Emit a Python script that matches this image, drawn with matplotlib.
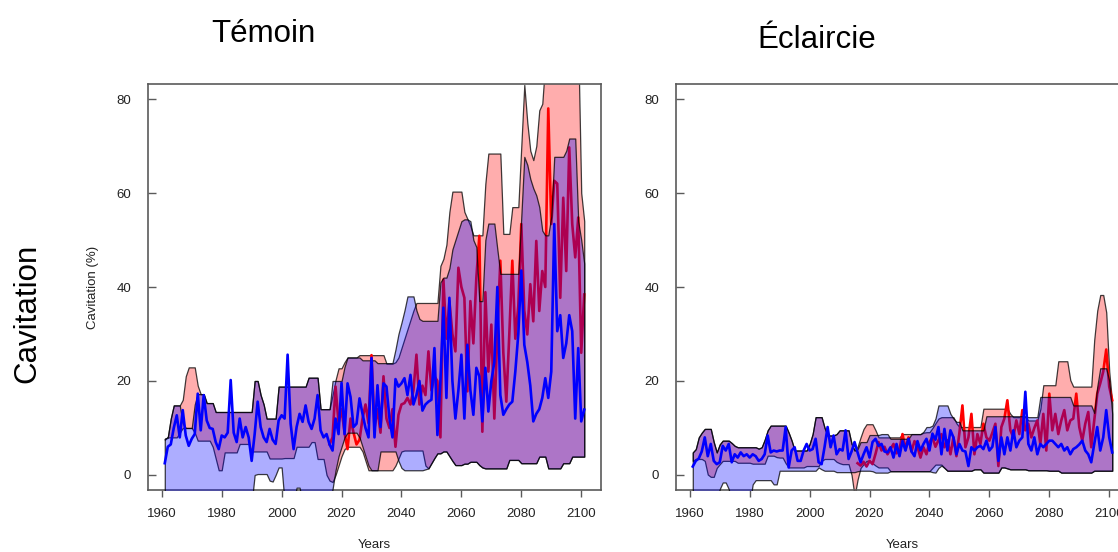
import numpy as np
import matplotlib
matplotlib.use("Agg")
import matplotlib.pyplot as plt

# ---------------- data ----------------
years = np.arange(1961, 2102)
red_years = np.arange(2016, 2102)

# ---- Témoin (left) ----
blue_L = [2.5, 6.0, 6.5, 10.0, 12.7, 8.0, 13.8, 8.4, 6.2, 7.7,
          8.7, 17.3, 9.5, 17.0, 11.6, 10.0, 9.8, 7.0, 5.5, 8.4,
          8.0, 9.0, 20.2, 9.0, 7.0, 12.0, 8.0, 10.2, 8.0, 3.0,
          8.7, 15.6, 10.2, 8.0, 7.0, 9.8, 7.5, 6.6, 11.6, 12.7,
          12.0, 25.6, 10.9, 5.5, 10.2, 13.0, 11.3, 14.8, 11.3, 9.8,
          12.0, 17.0, 9.5, 8.0, 8.7, 6.5, 5.2, 12.0, 8.7, 19.6,
          8.7, 19.5, 16.6, 10.2, 10.9, 16.3, 13.0, 10.0, 8.0, 24.9,
          8.0, 19.1, 10.2, 19.5, 18.8, 12.0, 8.0, 20.4, 18.8, 19.5,
          20.6, 17.0, 21.3, 15.0, 17.0, 20.0, 13.7, 15.0, 15.6, 16.0,
          27.0, 8.5, 20.0, 35.6, 16.4, 37.7, 20.0, 12.0, 18.0, 25.6,
          12.0, 27.7, 18.0, 12.8, 22.8, 21.0, 11.4, 22.8, 13.5, 20.0,
          24.0, 40.0, 17.0, 12.8, 14.0, 15.0, 15.6, 22.0, 30.0, 43.5,
          27.7, 24.0, 19.0, 11.4, 13.0, 14.0, 16.4, 20.6, 16.4, 22.0,
          53.4, 30.6, 34.0, 24.9, 28.0, 34.0, 30.6, 12.0, 27.0, 11.4,
          13.9]

red_L = [6.5, 8.0, 18.8, 11.0, 14.0, 9.0, 5.5, 12.0, 9.0, 6.5,
         7.5, 12.0, 15.0, 11.0, 25.5, 10.0, 14.0, 9.0, 21.0, 12.0,
         10.0, 14.0, 6.0, 12.8, 15.0, 15.3, 16.4, 15.0, 18.0, 25.6,
         15.0, 19.0, 17.0, 26.3, 18.0, 21.0, 20.0, 8.0, 41.6, 29.0,
         37.0, 30.0, 26.3, 44.1, 40.0, 37.7, 17.8, 37.0, 28.0, 42.0,
         50.9, 9.2, 38.9, 22.0, 32.0, 12.0, 30.0, 45.6, 26.0, 15.6,
         30.0, 45.6, 29.0, 36.0, 53.4, 35.0, 29.9, 40.6, 32.7, 49.8,
         34.9, 43.4, 40.0, 78.0, 53.4, 62.6, 62.0, 37.7, 59.0, 43.4,
         69.7, 53.4, 46.3, 54.8, 26.0, 38.4]

blue_hi_L = [7.7, 8.0, 12.0, 14.8, 14.8, 14.8, 11.0, 10.0, 10.0, 10.0,
             15.0, 17.2, 17.2, 17.2, 15.3, 15.3, 15.3, 13.4, 13.4, 13.4,
             13.4, 13.4, 13.4, 13.4, 13.4, 13.4, 13.4, 13.4, 13.4, 13.4,
             20.0, 20.0, 17.0, 15.0, 12.0, 12.0, 12.0, 12.0, 18.8, 18.8,
             18.8, 18.8, 18.8, 18.8, 18.8, 18.8, 18.8, 18.8, 20.7, 20.7,
             20.7, 20.7, 14.0, 14.0, 14.0, 14.0, 20.0, 20.0, 20.0, 20.0,
             23.0, 25.0, 25.0, 25.0, 25.0, 25.0, 24.4, 24.4, 24.4, 24.4,
             24.4, 23.8, 23.8, 23.8, 23.8, 23.8, 23.8, 26.7, 30.0, 32.4,
             35.0, 38.0, 38.0, 38.0, 35.0, 33.2, 32.8, 32.8, 32.8, 32.8,
             32.8, 32.8, 41.0, 42.0, 42.0, 44.0, 48.0, 50.0, 52.0, 54.0,
             54.4, 54.4, 54.0, 50.0, 48.5, 37.0, 37.0, 50.0, 53.5, 53.5,
             53.5, 48.0, 42.8, 42.8, 42.8, 42.8, 42.8, 42.8, 42.8, 55.0,
             67.7, 66.0, 63.0, 61.0, 59.5, 57.0, 52.0, 51.0, 51.0, 55.0,
             67.7, 67.7, 67.7, 67.7, 69.0, 71.6, 71.6, 71.6, 54.0, 50.0,
             45.0]

red_hi_L = [7.7, 8.0, 12.0, 14.8, 14.8, 14.8, 16.0, 21.0, 22.9, 22.9,
            22.9, 19.0, 17.2, 17.2, 15.3, 15.3, 15.3, 13.4, 13.4, 13.4,
            13.4, 13.4, 13.4, 13.4, 13.4, 13.4, 13.4, 13.4, 13.4, 13.4,
            20.0, 20.0, 17.0, 15.0, 12.0, 12.0, 12.0, 12.0, 18.8, 18.8,
            18.8, 18.8, 18.8, 18.8, 18.8, 18.8, 18.8, 18.8, 20.7, 20.7,
            20.7, 20.7, 14.0, 14.0, 14.0, 14.0, 17.0, 20.2, 22.7, 22.7,
            24.0, 25.0, 25.0, 25.0, 25.0, 25.5, 25.5, 25.5, 25.5, 25.5,
            25.5, 25.5, 25.5, 25.5, 23.7, 23.7, 23.7, 24.0, 25.0, 27.0,
            29.0, 31.0, 33.0, 35.0, 36.6, 36.6, 36.6, 36.6, 36.6, 36.6,
            36.6, 36.6, 44.5, 46.0, 49.0, 56.0, 60.3, 60.3, 60.3, 60.3,
            56.0, 54.5, 53.0, 51.0, 51.0, 51.0, 51.0, 62.0, 68.4, 68.4,
            68.4, 68.4, 68.4, 51.3, 51.3, 51.3, 57.0, 57.0, 57.0, 70.0,
            83.0, 75.0, 69.0, 67.0, 70.0, 77.6, 79.0, 88.0, 92.0, 92.0,
            92.0, 92.0, 92.0, 92.0, 92.0, 92.0, 92.0, 92.0, 92.0, 60.0,
            54.0]

blue_lo_L = [-6, -6, -6, -6, -6, -6, -6, -6, -6, -6,
             -6, -6, -6, -6, -6, -6, -6, -6, -6, -6,
             -6, -6, -6, -6, -6, -6, -6, -6, -6, -6,
             0.0, 0.2, 0.2, 0.2, 0.2, -1.2, -1.4, 0.0, 1.6, 1.6,
             -6, -6, -6, -6, -2.7, -2.7, -6, -6, -6, -6,
             -6, -6, -6, -6, -6, -6, -3.0, 1.0, 4.0, 6.0,
             8.0, 9.0, 9.0, 9.0, 9.0, 8.0, 6.0, 4.0, 2.0, 1.0,
             1.0, 1.0, 5.0, 5.0, 5.0, 5.0, 5.0, 5.0, 3.0, 1.5,
             1.0, 1.0, 1.0, 1.0, 1.0, 1.0, 1.0, 1.2, 1.4, 2.5,
             3.6, 4.6, 4.6, 5.0, 5.0, 4.0, 3.0, 2.1, 2.1, 2.1,
             2.4, 2.4, 2.8, 2.8, 2.8, 2.1, 1.6, 1.4, 1.4, 1.4,
             1.4, 1.4, 1.4, 1.4, 1.4, 3.2, 3.2, 3.2, 3.2, 2.5,
             2.5, 2.5, 2.5, 2.5, 2.5, 3.9, 3.9, 3.9, 1.4, 1.4,
             1.4, 1.4, 1.4, 2.5, 2.5, 2.5, 3.9, 3.9, 3.9, 3.9,
             3.9]

red_lo_L = [7.5, 8.0, 8.0, 8.0, 8.0, 9.0, 10.0, 10.0, 10.0, 10.0,
            9.0, 7.3, 7.3, 7.3, 7.3, 7.3, 6.0, 3.5, 1.0, 1.0,
            4.8, 4.8, 4.8, 4.8, 4.8, 6.6, 6.6, 6.6, 6.6, 5.0,
            5.0, 5.0, 5.0, 5.0, 5.0, 3.5, 3.5, 3.5, 3.5, 3.5,
            3.6, 3.6, 3.6, 3.6, 6.0, 6.0, 6.0, 6.0, 6.0, 7.0,
            7.0, 3.4, 3.4, 3.4, 0.0, -1.2, -1.5, 0.0, 2.0, 4.0,
            5.5, 6.0, 6.0, 6.0, 6.0, 6.0, 5.0, 3.0, 1.0, 1.0,
            1.0, 1.0, 1.0, 1.0, 1.0, 1.0, 1.0, 2.0, 3.5, 5.0,
            5.2, 5.2, 5.2, 5.2, 5.2, 5.2, 5.2, 2.0, 1.4, 2.5,
            3.6, 4.6, 4.6, 5.0, 5.0, 4.0, 3.0, 2.1, 2.1, 2.1,
            2.4, 2.4, 2.8, 2.8, 2.8, 2.1, 1.6, 1.4, 1.4, 1.4,
            1.4, 1.4, 1.4, 1.4, 1.4, 3.2, 3.2, 3.2, 3.2, 2.5,
            2.5, 2.5, 2.5, 2.5, 2.5, 3.9, 3.9, 3.9, 1.4, 1.4,
            1.4, 1.4, 1.4, 2.5, 2.5, 2.5, 3.9, 3.9, 3.9, 3.9,
            3.9]

# ---- Éclaircie (right) ----
blue_R = [1.8, 3.0, 3.5, 5.0, 8.0, 4.0, 6.6, 3.0, 2.3, 2.7,
          6.2, 5.2, 6.6, 2.7, 4.4, 3.7, 4.8, 4.0, 4.4, 3.7,
          4.4, 4.0, 3.0, 3.4, 4.4, 8.4, 4.8, 5.2, 5.0, 5.2,
          5.2, 10.2, 1.6, 5.2, 5.9, 3.0, 3.0, 5.2, 6.6, 5.2,
          5.5, 7.7, 2.7, 2.3, 6.0, 10.2, 5.9, 8.4, 4.4, 5.5,
          5.2, 9.5, 3.4, 5.0, 7.0, 4.8, 2.7, 4.4, 5.9, 3.7,
          7.0, 7.7, 6.2, 6.6, 5.0, 4.8, 5.9, 3.7, 6.6, 4.0,
          7.2, 5.2, 7.7, 5.0, 4.0, 7.2, 5.2, 6.6, 7.7, 5.2,
          8.8, 7.5, 10.2, 4.4, 9.8, 5.2, 9.5, 8.0, 4.4, 6.6,
          5.2, 5.0, 1.9, 5.9, 5.2, 5.9, 6.2, 5.5, 7.3, 5.2,
          6.0, 10.2, 3.0, 8.0, 4.4, 8.0, 5.2, 9.5, 5.9, 7.3,
          8.0, 17.7, 6.6, 5.2, 8.0, 4.4, 6.6, 5.9, 6.6, 7.3,
          7.3, 6.6, 5.9, 6.6, 5.2, 5.9, 4.4, 5.5, 5.9, 6.5,
          7.3, 5.2, 4.4, 2.7, 6.6, 10.2, 5.2, 8.0, 13.8, 8.0,
          4.8]

red_R = [2.5, 2.0, 2.8, 1.8, 3.0, 2.3, 4.5, 7.0, 5.2, 6.0,
         4.4, 5.5, 6.6, 4.6, 5.5, 8.7, 5.5, 8.0, 5.0, 7.2,
         6.0, 3.7, 5.9, 4.4, 7.0, 8.0, 6.0, 7.4, 8.7, 5.9,
         7.4, 4.4, 8.0, 4.0, 9.0, 14.8, 5.9, 8.0, 13.0, 4.4,
         8.7, 6.6, 10.9, 8.0, 7.3, 9.0, 10.9, 1.9, 10.2, 12.0,
         15.9, 9.5, 8.0, 11.6, 8.7, 13.8, 9.5, 10.9, 8.0, 10.0,
         11.6, 6.6, 13.0, 5.2, 17.3, 9.5, 13.0, 8.7, 11.6, 13.8,
         9.5, 11.6, 12.0, 17.3, 10.2, 7.3, 10.9, 13.4, 5.9, 11.6,
         17.3, 19.5, 22.0, 26.7, 18.8, 15.9]

blue_hi_R = [4.8, 5.5, 8.0, 9.0, 9.8, 9.8, 9.8, 7.0, 4.8, 6.5,
             7.3, 7.3, 7.3, 6.8, 6.2, 5.9, 5.9, 5.9, 5.9, 5.9,
             5.9, 5.9, 5.6, 5.9, 7.5, 9.5, 10.5, 10.5, 10.5, 10.5,
             10.5, 10.5, 9.0, 7.3, 5.2, 5.2, 5.2, 5.2, 5.2, 6.6,
             8.7, 12.3, 12.3, 12.3, 10.0, 8.4, 8.4, 8.4, 8.7, 9.5,
             9.5, 9.5, 9.5, 6.6, 5.2, 5.5, 7.0, 7.0, 7.0, 8.5,
             8.5, 8.5, 8.5, 8.7, 8.7, 8.7, 7.7, 7.7, 7.7, 7.7,
             7.7, 7.7, 7.7, 8.7, 8.7, 8.7, 8.7, 9.2, 10.2, 10.2,
             10.5, 12.0, 14.8, 14.8, 14.8, 14.8, 13.0, 12.0, 11.3, 11.3,
             9.5, 9.5, 9.5, 9.5, 9.5, 9.5, 9.5, 9.5, 12.5, 12.5,
             12.5, 12.5, 12.5, 12.5, 12.5, 12.5, 12.5, 12.5, 12.5, 12.5,
             12.5, 12.5, 12.3, 12.3, 12.3, 12.3, 16.6, 16.6, 16.6, 16.6,
             16.6, 16.6, 16.6, 16.6, 16.6, 16.6, 16.6, 14.8, 14.8, 14.8,
             14.8, 14.8, 14.8, 14.8, 13.2, 18.8, 22.7, 22.7, 22.7, 20.0,
             13.0]

red_hi_R = [4.8, 5.5, 8.0, 9.0, 9.8, 9.8, 9.8, 7.0, 4.8, 6.5,
            7.3, 7.3, 7.3, 6.8, 6.2, 5.9, 5.9, 5.9, 5.9, 5.9,
            5.9, 5.9, 5.6, 5.9, 7.5, 9.5, 10.5, 10.5, 10.5, 10.5,
            10.5, 10.5, 9.0, 7.3, 5.2, 5.2, 5.2, 5.2, 5.2, 6.6,
            8.7, 12.3, 12.3, 12.3, 10.0, 8.4, 8.4, 8.4, 8.7, 9.5,
            9.5, 9.5, 9.5, 6.6, 5.2, 6.0, 8.0, 9.8, 10.8, 10.8,
            10.8, 9.5, 8.0, 8.0, 8.0, 8.0, 8.0, 8.0, 8.0, 8.0,
            8.7, 8.7, 8.7, 8.7, 8.7, 8.7, 8.7, 9.0, 9.1, 9.1,
            10.0, 11.0, 12.0, 12.3, 12.3, 12.3, 12.3, 12.3, 11.0, 10.2,
            10.2, 10.2, 10.2, 10.2, 10.2, 10.2, 10.2, 14.1, 14.1, 14.1,
            14.1, 14.1, 14.1, 14.1, 14.1, 14.1, 13.0, 12.3, 12.3, 12.3,
            12.3, 12.3, 11.6, 11.6, 11.6, 11.6, 14.0, 19.1, 19.1, 19.1,
            19.1, 19.1, 24.2, 24.2, 24.2, 24.2, 20.2, 18.8, 18.8, 18.8,
            18.8, 18.8, 18.8, 18.8, 28.8, 35.0, 38.3, 38.3, 34.6, 22.0,
            15.2]

blue_lo_R = [-6, -6, -6, -6, -6, -6, -6, -6, -6, -3.0,
             -1.6, -1.6, -3.0, -6, -6, -6, -6, -6, -6, -6,
             -2.0, -1.1, -1.1, -1.1, -1.1, -1.1, -1.1, -2.0, -2.0, 0.9,
             0.9, 0.9, 0.9, 0.9, 0.9, 0.9, 0.9, 0.9, 0.9, 0.9,
             0.9, 0.9, 1.6, 1.2, 0.9, 0.9, 0.9, 0.9, 0.6, 0.6,
             0.6, 0.6, 0.6, 0.6, 0.6, 0.8, 0.9, 0.9, 0.9, 0.9,
             0.8, 0.5, 0.5, 0.5, 0.5, 0.5, 0.8, 0.8, 0.8, 0.8,
             0.8, 0.8, 0.8, 0.8, 0.8, 0.8, 0.8, 0.8, 0.8, 0.8,
             0.6, 0.5, 1.5, 2.0, 1.5, 0.9, 0.9, 0.9, 0.9, 0.9,
             0.9, 0.9, 0.9, 0.9, 1.2, 1.2, 1.2, 0.5, 0.5, 0.5,
             0.5, 0.5, 0.5, 1.6, 1.6, 1.4, 1.2, 1.2, 1.2, 1.2,
             1.2, 1.2, 1.0, 1.0, 1.0, 1.0, 1.0, 1.0, 1.0, 0.9,
             0.9, 0.9, 0.9, 0.5, 0.5, 0.5, 0.5, 0.5, 0.5, 0.5,
             0.5, 0.5, 0.5, 0.5, 0.9, 0.9, 0.9, 0.9, 0.9, 0.9,
             0.9]

red_lo_R = [3.0, 3.4, 3.4, 3.4, 3.0, 0.1, -0.4, -0.4, 1.5, 2.3,
            3.0, 3.0, 3.0, 3.0, 3.0, 2.6, 2.6, 2.6, 2.6, 2.6,
            2.4, 2.4, 2.4, 2.4, 2.4, 4.1, 4.1, 4.1, 3.8, 3.7,
            3.7, 2.5, 1.6, 1.6, 1.6, 1.6, 1.6, 1.6, 1.9, 1.9,
            1.9, 1.9, 1.9, 3.0, 3.4, 3.4, 3.4, 3.4, 2.8, 2.5,
            2.3, 2.3, 2.3, 0.0, -4.5, -1.0, 1.5, 2.3, 3.0, 3.0,
            2.5, 2.0, 1.6, 1.6, 1.6, 1.6, 0.8, 0.8, 0.8, 0.8,
            0.8, 0.8, 0.8, 0.8, 0.8, 0.8, 0.8, 0.8, 0.8, 0.8,
            1.5, 2.2, 2.2, 2.2, 1.5, 0.9, 0.9, 0.9, 0.9, 0.9,
            0.9, 0.9, 0.9, 0.9, 1.2, 1.2, 1.2, 0.5, 0.5, 0.5,
            0.5, 0.5, 0.5, 1.6, 1.6, 1.4, 1.2, 1.2, 1.2, 1.2,
            1.2, 1.2, 1.0, 1.0, 1.0, 1.0, 1.0, 1.0, 1.0, 0.9,
            0.9, 0.9, 0.9, 0.5, 0.5, 0.5, 0.5, 0.5, 0.5, 0.5,
            0.5, 0.5, 0.5, 0.5, 0.9, 0.9, 0.9, 0.9, 0.9, 0.9,
            0.9]

x_ticks = [1960, 1980, 2000, 2020, 2040, 2060, 2080, 2100]
y_ticks = [0, 20, 40, 60, 80]
titles = ["Témoin", "Éclaircie"]

# ---------------- drawing ----------------
plt.rcParams['font.family'] = ['Liberation Sans', 'DejaVu Sans']

W, H = 1118, 552
fig = plt.figure(figsize=(W / 100, H / 100), dpi=100)

panels = [
    dict(left=148, blue=blue_L, red=red_L, bhi=blue_hi_L, blo=blue_lo_L,
         rhi=red_hi_L, rlo=red_lo_L, ylabel=True),
    dict(left=676, blue=blue_R, red=red_R, bhi=blue_hi_R, blo=blue_lo_R,
         rhi=red_hi_R, rlo=red_lo_R, ylabel=False),
]

frame_col = '#5a5a5a'
text_col = '#222222'
edge_col = (0, 0, 0, 0.75)

for p in panels:
    ax = fig.add_axes([p['left'] / W, (H - 490) / H, 453 / W, 406 / H])
    ax.fill_between(years, p['rlo'], p['rhi'], facecolor=(1, 0, 0, 0.32),
                    edgecolor=edge_col, linewidth=0.9, zorder=1)
    ax.plot(red_years, p['red'], color='#ff0000', lw=1.9, zorder=2,
            solid_joinstyle='round')
    ax.fill_between(years, p['blo'], p['bhi'], facecolor=(0, 0, 1, 0.32),
                    edgecolor=edge_col, linewidth=0.9, zorder=3)
    ax.plot(years, p['blue'], color='#0000ff', lw=1.9, zorder=4,
            solid_joinstyle='round')

    ax.set_xlim(1955.4, 2106.6)
    ax.set_ylim(-3.2, 83.2)
    ax.set_xticks(x_ticks)
    ax.set_yticks(y_ticks)
    for s in ax.spines.values():
        s.set_color(frame_col)
        s.set_linewidth(1.2)
    ax.tick_params(axis='y', direction='in', length=6, width=1.0,
                   color=frame_col, labelsize=9.5, labelcolor=text_col, pad=12)
    ax.tick_params(axis='x', direction='out', length=5, width=1.0,
                   color=frame_col, labelsize=9.5, labelcolor=text_col, pad=8)

    cx = (p['left'] + 453 / 2) / W
    fig.text(cx, 1 - 545 / H, 'Years', ha='center', va='center',
             fontsize=9.5, color=text_col)
    if p['ylabel']:
        fig.text(93 / W, 1 - 287 / H, 'Cavitation (%)', rotation=90,
                 ha='center', va='center', fontsize=9.5, color=text_col)

fig.text(263 / W, 1 - 42 / H, titles[0], ha='center', va='baseline',
         fontsize=22.5, color='black')
fig.text(817 / W, 1 - 48 / H, titles[1], ha='center', va='baseline',
         fontsize=22.5, color='black')
fig.text(27 / W, 1 - 313 / H, 'Cavitation', rotation=90, ha='center',
         va='center', fontsize=22.5, color='black')

fig.savefig('out.png', dpi=100)
